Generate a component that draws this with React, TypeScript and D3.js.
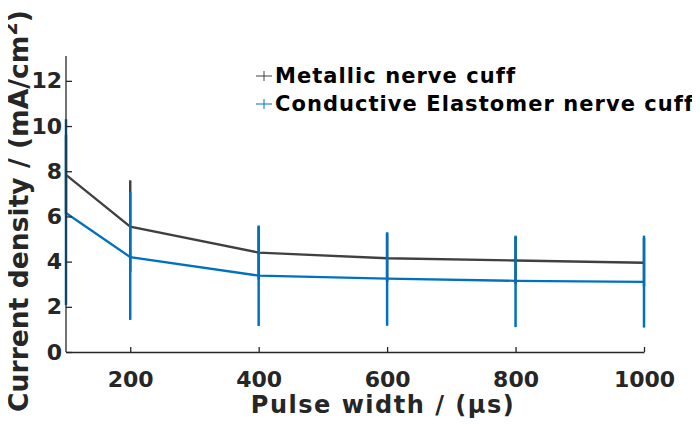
import React, { useEffect, useRef } from 'react'
import * as d3 from 'd3'

const WIDTH = 700
const HEIGHT = 427
const margin = { left: 66, right: 56, top: 56, bottom: 75 }

const pulseWidths = [100, 200, 400, 600, 800, 1000]
const metallicMean = [7.84, 5.55, 4.4, 4.15, 4.05, 3.95]
const metallicUpper = [9.6, 7.6, 5.55, 5.25, 5.1, 5.05]
const metallicLower = [6.1, 3.55, 3.2, 3.1, 3.0, 2.9]
const elastomerMean = [6.15, 4.2, 3.38, 3.25, 3.15, 3.1]
const elastomerUpper = [10.3, 7.08, 5.6, 5.3, 5.15, 5.15]
const elastomerLower = [2.08, 1.42, 1.15, 1.16, 1.1, 1.08]
const xTicks = [200, 400, 600, 800, 1000]
const yTicks = [0, 2, 4, 6, 8, 10, 12]

const series = [
  { name: 'Metallic nerve cuff', color: '#404040', mean: metallicMean, upper: metallicUpper, lower: metallicLower },
  { name: 'Conductive Elastomer nerve cuff', color: '#0072BD', mean: elastomerMean, upper: elastomerUpper, lower: elastomerLower },
]

const AXIS = '#262626'
const FONT = '"DejaVu Sans", Verdana, sans-serif'

export default function App() {
  const ref = useRef<SVGSVGElement>(null)

  useEffect(() => {
    const svg = d3.select(ref.current)
    svg.selectAll('*').remove()

    const x = d3.scaleLinear().domain([100, 1000]).range([margin.left, WIDTH - margin.right])
    const y = d3.scaleLinear().domain([0, 13.1]).range([HEIGHT - margin.bottom, margin.top])

    // series: lines then error bars
    series.forEach(s => {
      const line = d3.line<number>()
        .x((_, i) => x(pulseWidths[i]))
        .y(v => y(v))
      svg.append('path')
        .attr('d', line(s.mean))
        .attr('fill', 'none')
        .attr('stroke', s.color)
        .attr('stroke-width', 2.3)
    })
    series.forEach(s => {
      svg.append('g').selectAll('line')
        .data(pulseWidths)
        .join('line')
        .attr('x1', d => x(d))
        .attr('x2', d => x(d))
        .attr('y1', (_, i) => y(s.upper[i]))
        .attr('y2', (_, i) => y(s.lower[i]))
        .attr('stroke', s.color)
        .attr('stroke-width', 2.5)
    })

    // axes
    const xAxis = svg.append('g')
      .attr('transform', `translate(0,${HEIGHT - margin.bottom})`)
      .call(d3.axisBottom(x).tickValues(xTicks).tickFormat(d3.format('d')).tickSizeInner(-5).tickSizeOuter(0).tickPadding(19))
    const yAxis = svg.append('g')
      .attr('transform', `translate(${margin.left},0)`)
      .call(d3.axisLeft(y).tickValues(yTicks).tickSizeInner(-6).tickSizeOuter(0).tickPadding(4))
    ;[xAxis, yAxis].forEach(g => {
      g.select('.domain').attr('stroke', AXIS).attr('stroke-width', 1.3)
      g.selectAll('.tick line').attr('stroke', AXIS).attr('stroke-width', 1.3)
      g.selectAll('.tick text')
        .attr('fill', AXIS)
        .style('font-family', FONT)
        .style('font-weight', 'bold')
        .style('font-size', '22px')
    })
    // extend the y axis line above the top tick
    yAxis.select('.domain').attr('d', `M0,${y(0)}V${margin.top}`)

    svg.append('text')
      .attr('x', 383)
      .attr('y', 413)
      .attr('text-anchor', 'middle')
      .attr('fill', AXIS)
      .style('font-family', FONT)
      .style('font-weight', 'bold')
      .style('font-size', '24px')
      .style('letter-spacing', '1.5px')
      .text('Pulse width / (μs)')

    const yTitle = svg.append('text')
      .attr('transform', `translate(28,211) rotate(-90)`)
      .attr('text-anchor', 'middle')
      .attr('fill', AXIS)
      .style('font-family', FONT)
      .style('font-weight', 'bold')
      .style('font-size', '26.6px')
    yTitle.append('tspan').text('Current density / (mA/cm')
    yTitle.append('tspan').attr('dy', -11).style('font-size', '19px').text('2')
    yTitle.append('tspan').attr('dy', 11).text(')')

    // legend
    const legend = svg.append('g').attr('transform', 'translate(256,76)')
    series.forEach((s, i) => {
      const row = legend.append('g').attr('transform', `translate(0,${i * 28})`)
      row.append('line').attr('x1', 0).attr('x2', 16).attr('y1', 0).attr('y2', 0)
        .attr('stroke', s.color).attr('stroke-width', 1)
      row.append('line').attr('x1', 8).attr('x2', 8).attr('y1', -5).attr('y2', 5)
        .attr('stroke', s.color).attr('stroke-width', 1)
      row.append('text')
        .attr('x', 19)
        .attr('y', 7)
        .attr('fill', '#000')
        .style('font-family', FONT)
        .style('font-weight', 'bold')
        .style('font-size', '21px')
        .style('letter-spacing', '1.05px')
        .text(s.name)
    })
  }, [])

  return <svg ref={ref} width={WIDTH} height={HEIGHT} style={{ display: 'block', margin: -8, background: '#fff' }} />
}
